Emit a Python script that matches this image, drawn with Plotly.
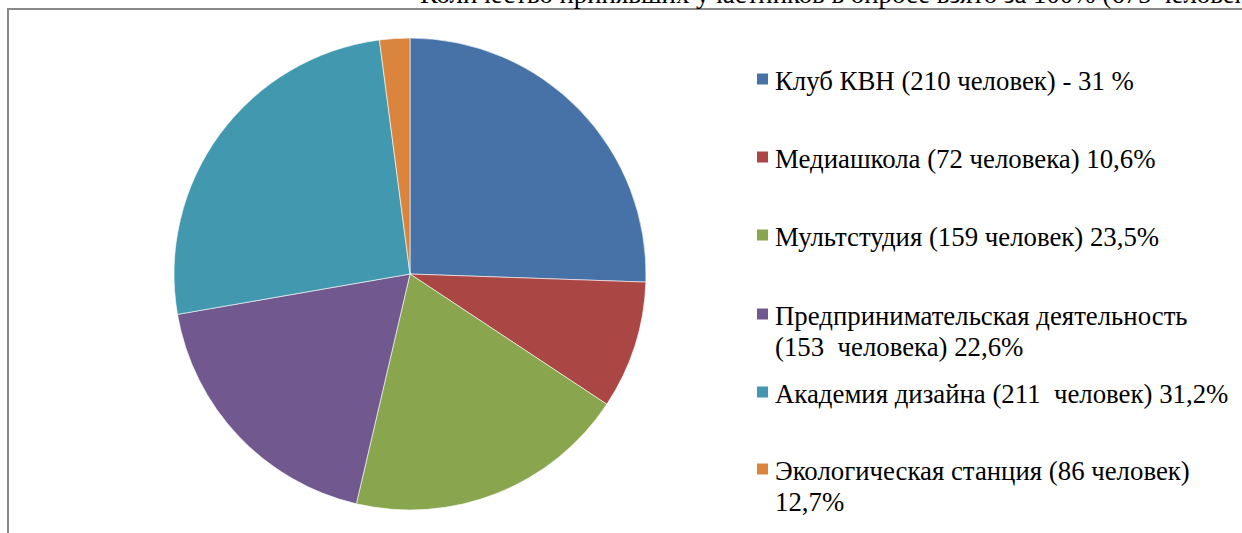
import plotly.graph_objects as go

W, H = 1242, 533

# ---- data ----
labels = [
    "Клуб КВН (210 человек) - 31 %",
    "Медиашкола (72 человека) 10,6%",
    "Мультстудия (159 человек) 23,5%",
    "Предпринимательская деятельность<br>(153\u00a0\u00a0человека) 22,6%",
    "Академия дизайна (211\u00a0\u00a0человек) 31,2%",
    "Экологическая станция (86 человек)<br>12,7%",
]
values = [210, 72, 159, 153, 211, 17]
colors = ["#4672A8", "#AA4644", "#89A54E", "#71588F", "#4198AF", "#DB843D"]
title_text = "Количество принявших участников в опросе взято за 100% (675 человек)"

# ---- layout helpers (pixel -> paper) ----
def px(x):
    return x / W

def py(y):
    return 1 - y / H

FONT = "Times New Roman, Liberation Serif, serif"
FS = 26.8
LINE = 31

fig = go.Figure()
fig.add_trace(go.Pie(
    labels=labels,
    values=values,
    sort=False,
    direction="clockwise",
    rotation=0,
    textinfo="none",
    marker=dict(colors=colors, line=dict(color="rgba(255,255,255,0.6)", width=1)),
    domain=dict(x=[px(174), px(646)], y=[py(510), py(38)]),
    showlegend=False,
))

# legend drawn as squares + text
first_line_y = [81, 159, 237, 316, 394, 471]
for lab, col, yc in zip(labels, colors, first_line_y):
    fig.add_shape(type="rect", xref="paper", yref="paper",
                  x0=px(757), x1=px(768), y0=py(yc + 3.5), y1=py(yc - 7.5),
                  fillcolor=col, line=dict(width=0))
    for i, line in enumerate(lab.split("<br>")):
        fig.add_annotation(xref="paper", yref="paper", x=px(773), y=py(yc + i * LINE),
                           xanchor="left", yanchor="middle", align="left",
                           text=line, showarrow=False,
                           font=dict(family=FONT, size=FS, color="#000000"))

# clipped title at the top
fig.add_annotation(xref="paper", yref="paper", x=px(418), y=py(-6),
                   xanchor="left", yanchor="middle", align="left",
                   text=title_text, showarrow=False,
                   font=dict(family=FONT, size=FS, color="#000000"))

# frame
fig.add_shape(type="rect", xref="paper", yref="paper",
              x0=px(8), x1=px(W + 10), y0=py(H + 10), y1=py(9),
              line=dict(color="#898989", width=2), fillcolor="rgba(0,0,0,0)")

fig.update_layout(
    width=W, height=H,
    margin=dict(l=0, r=0, t=0, b=0),
    paper_bgcolor="white", plot_bgcolor="white",
    showlegend=False,
)

fig.write_html("out.html", config={"displayModeBar": False},
               post_script="document.body.style.margin='0';document.body.style.overflow='hidden';")
